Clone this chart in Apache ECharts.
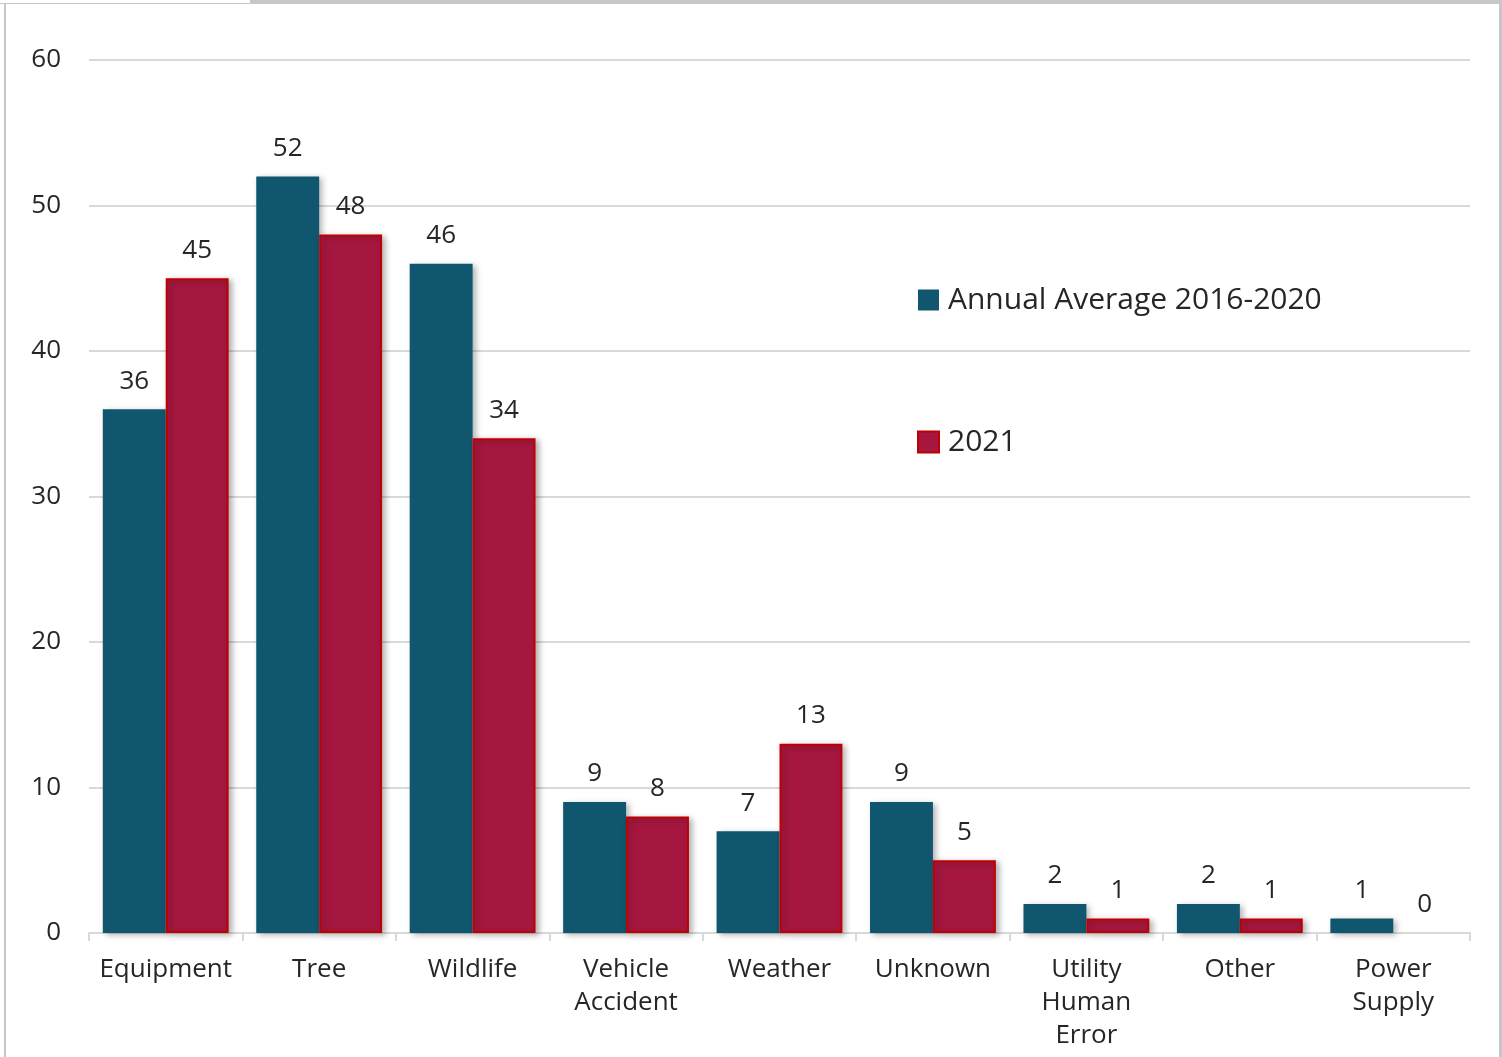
<!DOCTYPE html>
<html>
<head>
<meta charset="utf-8">
<script src="https://cdn.jsdelivr.net/npm/echarts@6/dist/echarts.min.js"></script>
<style>
  html, body { margin: 0; padding: 0; background: #fff; }
  #chart { width: 1502px; height: 1057px; }
</style>
</head>
<body>
<div id="chart"></div>
<script>
const categories = ["Equipment", "Tree", "Wildlife", "Vehicle\nAccident", "Weather", "Unknown", "Utility\nHuman\nError", "Other", "Power\nSupply"];
const averageValues = [36, 52, 46, 9, 7, 9, 2, 2, 1];
const values2021 = [45, 48, 34, 8, 13, 5, 1, 1, 0];
const yTicks = [0, 10, 20, 30, 40, 50, 60];

const font = "'Open Sans', Lato, sans-serif";
const chart = echarts.init(document.getElementById("chart"));

const barLabel = {
  show: true,
  position: "top",
  distance: 15,
  color: "#262626",
  fontSize: 26,
  fontFamily: font,
};

// zero-height bars get no outline, like the source
const data2021 = values2021.map((v) => (v === 0 ? { value: v, itemStyle: { borderWidth: 0 } } : v));

chart.setOption({
  animation: false,
  backgroundColor: "#fff",
  graphic: [
    { type: "rect", shape: { x: 0, y: 3, width: 250, height: 1 }, style: { fill: "#c6c7ca" } },
    { type: "rect", shape: { x: 250, y: 0, width: 1252, height: 4 }, style: { fill: "#c6c7ca" } },
    { type: "rect", shape: { x: 4, y: 3, width: 2, height: 1054 }, style: { fill: "#c6c7ca" } },
    { type: "rect", shape: { x: 1499, y: 0, width: 3, height: 1057 }, style: { fill: "#c6c7ca" } },
  ],
  legend: {
    orient: "vertical",
    left: 917,
    top: 285,
    padding: 0,
    itemGap: 112,
    itemWidth: 21,
    itemHeight: 21,
    icon: "rect",
    textStyle: { fontSize: 30, fontFamily: font, color: "#262626", padding: [0, 0, 0, 4] },
    data: ["Annual Average 2016-2020", "2021"],
  },
  grid: { left: 89, right: 32, top: 60, bottom: 124 },
  xAxis: {
    type: "category",
    data: categories,
    axisLine: { lineStyle: { color: "#d9d9d9", width: 2 } },
    axisTick: { show: true, length: 8, lineStyle: { color: "#d9d9d9", width: 2 } },
    axisLabel: {
      interval: 0,
      margin: 20,
      fontSize: 26,
      lineHeight: 33,
      color: "#262626",
      fontFamily: font,
    },
  },
  yAxis: {
    type: "value",
    min: 0,
    max: yTicks[yTicks.length - 1],
    interval: 10,
    axisLine: { show: false },
    axisTick: { show: false },
    axisLabel: { fontSize: 26, color: "#262626", fontFamily: font, margin: 28 },
    splitLine: { lineStyle: { color: "#d9d9d9", width: 2 } },
  },
  series: [
    {
      name: "Annual Average 2016-2020",
      type: "bar",
      data: averageValues,
      barGap: "0%",
      barCategoryGap: "18%",
      itemStyle: {
        color: "#10566f",
        shadowBlur: 6,
        shadowOffsetX: 3,
        shadowOffsetY: 2,
        shadowColor: "rgba(0,0,0,0.3)",
      },
      label: barLabel,
    },
    {
      name: "2021",
      type: "bar",
      data: data2021,
      itemStyle: {
        color: "#a6173f",
        borderColor: "#c00000",
        borderWidth: 2,
        shadowBlur: 6,
        shadowOffsetX: 3,
        shadowOffsetY: 2,
        shadowColor: "rgba(0,0,0,0.3)",
      },
      label: barLabel,
    },
  ],
});
</script>
</body>
</html>
